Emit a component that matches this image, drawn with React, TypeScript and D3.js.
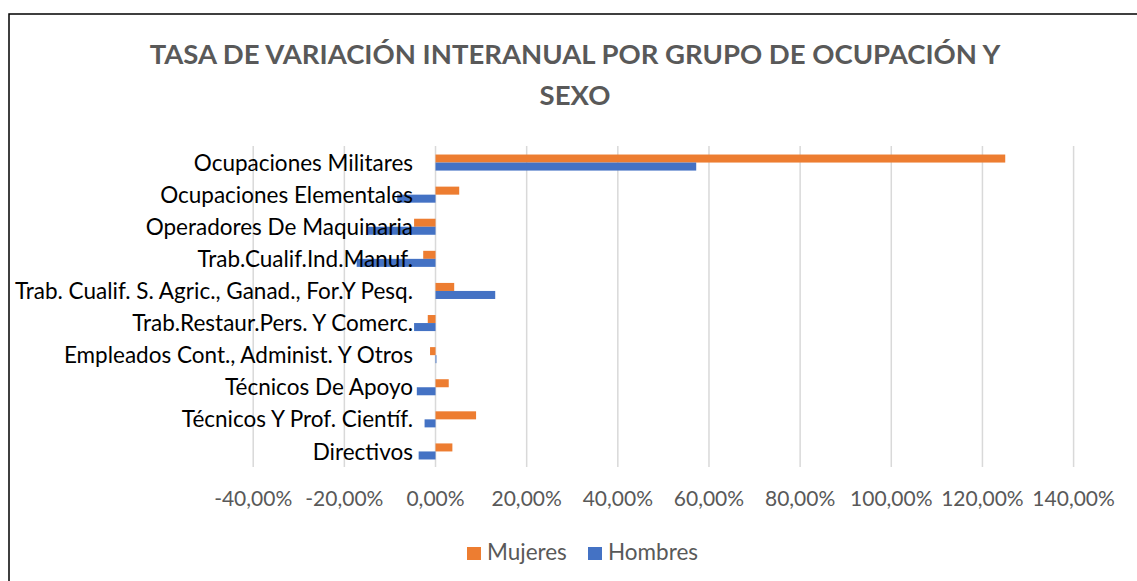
import React, { useEffect, useRef } from "react";
import * as d3 from "d3";

// categories top -> bottom as drawn
const categories = [
  "Ocupaciones Militares",
  "Ocupaciones Elementales",
  "Operadores De Maquinaria",
  "Trab.Cualif.Ind.Manuf.",
  "Trab. Cualif. S. Agric., Ganad., For.Y Pesq.",
  "Trab.Restaur.Pers. Y Comerc.",
  "Empleados Cont., Administ. Y Otros",
  "Técnicos De Apoyo",
  "Técnicos Y Prof. Científ.",
  "Directivos",
];

// variation rates (%)
const mujeres = [125.0, 5.2, -4.7, -2.7, 4.1, -1.7, -1.2, 2.9, 8.9, 3.7];
const hombres = [57.2, -8.4, -14.8, -17.3, 13.1, -4.7, 0.2, -4.1, -2.4, -3.7];

const xTicks = [-40, -20, 0, 20, 40, 60, 80, 100, 120, 140];

const seriesNames = ["Mujeres", "Hombres"];
const colors = ["#ED7D31", "#4472C4"];

const W = 1137;
const H = 581;
const FONT = "Lato, 'Open Sans', sans-serif";

export default function App() {
  const ref = useRef<SVGSVGElement>(null);

  useEffect(() => {
    const svg = d3.select(ref.current);
    svg.selectAll("*").remove();

    const x = d3.scaleLinear().domain([-40, 140]).range([253.2, 1073.6]);
    const y = d3.scaleBand().domain(categories).range([146.5, 467.5]).paddingInner(0.5).paddingOuter(0.25);
    const sub = d3.scaleBand().domain(seriesNames).range([0, y.bandwidth()]);

    // frame
    svg.append("rect")
      .attr("x", 9).attr("y", 14)
      .attr("width", W + 10).attr("height", H + 10)
      .attr("fill", "#fff").attr("stroke", "#000").attr("stroke-width", 1.5);

    // title
    const title = svg.append("text")
      .attr("text-anchor", "middle")
      .attr("font-family", FONT).attr("font-weight", "bold")
      .attr("font-size", 27.5).attr("fill", "#595959");
    title.append("tspan").attr("x", 575).attr("y", 64).text("TASA DE VARIACIÓN INTERANUAL POR GRUPO DE OCUPACIÓN Y");
    title.append("tspan").attr("x", 575).attr("y", 105).text("SEXO");

    // gridlines
    svg.append("g").selectAll("line").data(xTicks).join("line")
      .attr("x1", d => x(d)).attr("x2", d => x(d))
      .attr("y1", 146).attr("y2", 467)
      .attr("stroke", "#d9d9d9").attr("stroke-width", 1.5);

    // bars
    const data = [mujeres, hombres];
    data.forEach((vals, si) => {
      svg.append("g").selectAll("rect").data(vals).join("rect")
        .attr("x", d => x(Math.min(0, d)))
        .attr("width", d => Math.abs(x(d) - x(0)))
        .attr("y", (d, i) => (y(categories[i]) as number) + (sub(seriesNames[si]) as number))
        .attr("height", sub.bandwidth())
        .attr("fill", colors[si]);
    });

    // category labels
    svg.append("g").selectAll("text").data(categories).join("text")
      .attr("x", 413)
      .attr("y", d => (y(d) as number) + y.bandwidth() / 2)
      .attr("dy", "0.36em")
      .attr("text-anchor", "end")
      .attr("font-family", FONT).attr("font-size", 22.5)
      .attr("fill", "#000")
      .text(d => d);

    // x tick labels
    const fmt = (v: number) => v.toFixed(2).replace(".", ",") + "%";
    svg.append("g").selectAll("text").data(xTicks).join("text")
      .attr("x", d => x(d))
      .attr("y", 506)
      .attr("text-anchor", "middle")
      .attr("font-family", FONT).attr("font-size", 21)
      .attr("fill", "#595959")
      .text(d => fmt(d));

    // legend
    const legendX = [467, 588];
    const lg = svg.append("g").selectAll("g").data(seriesNames).join("g")
      .attr("transform", (d, i) => `translate(${legendX[i]},560)`);
    lg.append("rect").attr("x", 0).attr("y", -13).attr("width", 14).attr("height", 13)
      .attr("fill", (d, i) => colors[i]);
    lg.append("text").attr("x", 20).attr("y", 0)
      .attr("font-family", FONT).attr("font-size", 22.5).attr("fill", "#595959")
      .text(d => d);
  }, []);

  return (
    <div style={{ position: "absolute", left: 0, top: 0 }}>
      <svg ref={ref} width={W} height={H} style={{ display: "block" }} />
    </div>
  );
}
